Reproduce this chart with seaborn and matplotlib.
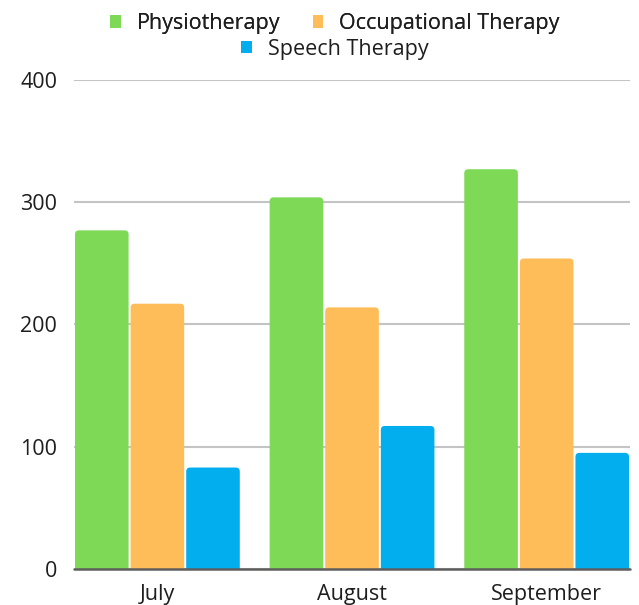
import matplotlib
matplotlib.use('Agg')
import matplotlib.pyplot as plt
from matplotlib.patches import FancyBboxPatch, Patch
import pandas as pd
import seaborn as sns

months = ['July', 'August', 'September']
physio = [277, 304, 327]
occupational = [217, 214, 254]
speech = [83, 117, 95]
therapies = ['Physiotherapy', 'Occupational Therapy', 'Speech Therapy']
colors = ['#7ED957', '#FFBD59', '#03AEEF']

df = pd.DataFrame({
    'Month': months * 3,
    'Therapy': [t for t in therapies for _ in months],
    'Count': physio + occupational + speech,
})

sns.set_theme(style='white')
plt.rcParams['font.family'] = ['Open Sans', 'DejaVu Sans']

fig = plt.figure(figsize=(6.39, 6.05), dpi=100)
ax = fig.add_axes([0.1158, 0.0595, 0.8702, 0.8083])

sns.barplot(data=df, x='Month', y='Count', hue='Therapy', order=months,
            hue_order=therapies, palette=colors, saturation=1, width=0.857,
            gap=0, edgecolor='white', linewidth=1.5, legend=False, ax=ax)

# Swap the flat bars for ones with slightly rounded tops
xpx = 2.857 / 556
ypx = 400 / 489
for p in list(ax.patches):
    x, w, h = p.get_x(), p.get_width(), p.get_height()
    fc = p.get_facecolor()
    p.remove()
    ax.add_patch(FancyBboxPatch(
        (x + xpx, -6 * ypx), w - 2 * xpx, h + 6 * ypx,
        boxstyle=f'round,pad=0,rounding_size={4 * xpx}',
        mutation_aspect=ypx / xpx, facecolor=fc, edgecolor='none',
        zorder=2))

ax.set_xlim(-0.4285, 2.4285)
ax.set_ylim(0, 400)
ax.set_yticks([0, 100, 200, 300, 400])
ax.yaxis.grid(True, color='#C4C4C4', linewidth=1.5, zorder=0)
ax.set_axisbelow(True)
ax.axhline(0, color='#5E5E5E', linewidth=1.8, zorder=3, clip_on=False)
for s in ax.spines.values():
    s.set_visible(False)
ax.tick_params(axis='y', length=0, pad=12, labelsize=15.5, labelcolor='#1E1E1E')
ax.tick_params(axis='x', length=0, pad=10.5, labelsize=15.5, labelcolor='#1E1E1E')
ax.set_xlabel('')
ax.set_ylabel('')

handles = [Patch(facecolor=c, edgecolor='none') for c in colors]
leg1 = fig.legend(handles[:2], therapies[:2], ncol=2, loc='center',
                  bbox_to_anchor=(0.524, 0.961), frameon=False, fontsize=15.5,
                  handlelength=0.5, handleheight=0.5, handletextpad=0.75,
                  columnspacing=1.5, labelcolor='#1E1E1E')
leg2 = fig.legend(handles[2:], therapies[2:], loc='center',
                  bbox_to_anchor=(0.524, 0.919), frameon=False, fontsize=15.5,
                  handlelength=0.5, handleheight=0.5, handletextpad=0.75,
                  labelcolor='#1E1E1E')
fig.add_artist(leg1)

fig.savefig('out.png', dpi=100)
